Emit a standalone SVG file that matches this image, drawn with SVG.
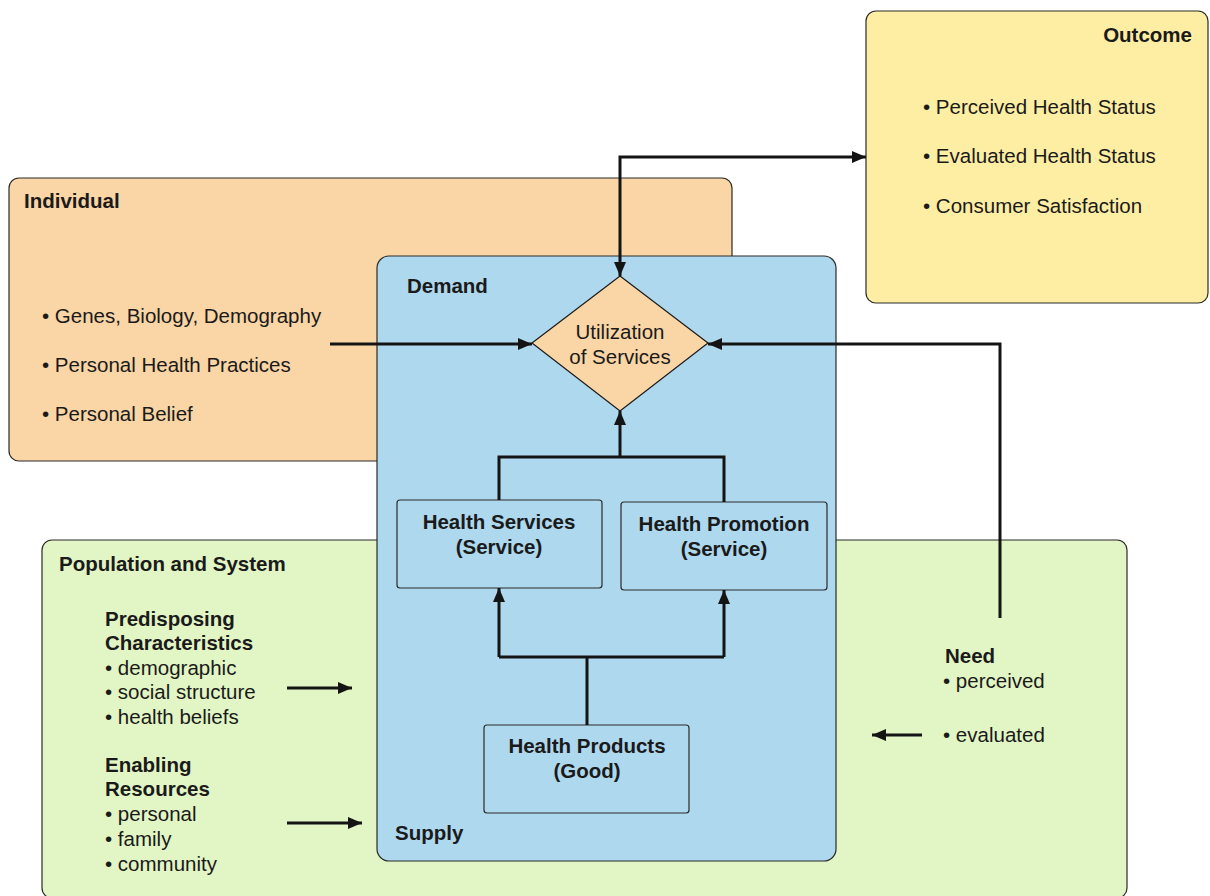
<svg xmlns="http://www.w3.org/2000/svg" width="1210" height="896" viewBox="0 0 1210 896">
<defs>
<style>
text{font-family:"Liberation Sans",Arial,sans-serif;fill:#1a1a1a;font-size:20.5px}
.b{font-weight:bold}
.m{text-anchor:middle}
.panel{stroke:#2a2a2a;stroke-width:1.2}
.box{fill:#aed8ee;stroke:#2a2a2a;stroke-width:1.2}
.c{fill:none;stroke:#141414;stroke-width:3}
</style>
<marker id="ah" viewBox="0 0 14 12" refX="14" refY="6" markerWidth="14" markerHeight="12" markerUnits="userSpaceOnUse" orient="auto-start-reverse">
<path d="M0,0 L14,6 L0,12 Z" fill="#141414"/>
</marker>
</defs>
<rect width="1210" height="896" fill="#ffffff"/>

<g id="population">
<rect class="panel" x="42" y="540" width="1085" height="358" rx="10" fill="#e2f5c4"/>
<text class="b" x="59" y="571">Population and System</text>
<text class="b" x="105" y="626">Predisposing</text>
<text class="b" x="105" y="650">Characteristics</text>
<text x="105" y="675">• demographic</text>
<text x="105" y="699">• social structure</text>
<text x="105" y="724">• health beliefs</text>
<text class="b" x="105" y="772">Enabling</text>
<text class="b" x="105" y="796">Resources</text>
<text x="105" y="821">• personal</text>
<text x="105" y="846">• family</text>
<text x="105" y="871">• community</text>
<text class="b" x="945" y="663">Need</text>
<text x="943" y="688">• perceived</text>
<text x="943" y="742">• evaluated</text>
</g>

<g id="individual">
<rect class="panel" x="9" y="178" width="723" height="283" rx="10" fill="#fad5a5"/>
<text class="b" x="24" y="208">Individual</text>
<text x="42" y="323">• Genes, Biology, Demography</text>
<text x="42" y="372">• Personal Health Practices</text>
<text x="42" y="421">• Personal Belief</text>
</g>

<g id="outcome">
<rect class="panel" x="866" y="11" width="342" height="292" rx="10" fill="#feeea3"/>
<text class="b" x="1192" y="42" text-anchor="end">Outcome</text>
<text x="923" y="114">• Perceived Health Status</text>
<text x="923" y="163">• Evaluated Health Status</text>
<text x="923" y="213">• Consumer Satisfaction</text>
</g>

<g id="demand-supply">
<rect class="panel" x="377" y="256" width="459" height="605" rx="12" fill="#aed8ee"/>
<text class="b" x="407" y="293">Demand</text>
<text class="b" x="395" y="840">Supply</text>
</g>

<g id="utilization">
<polygon points="620,276 708,343 620,411 532,343" fill="#fad5a5" stroke="#1a1a1a" stroke-width="1.2"/>
<text class="m" x="620" y="339">Utilization</text>
<text class="m" x="620" y="364">of Services</text>
</g>

<g id="health-services">
<rect class="box" x="397" y="500" width="205" height="88" rx="3"/>
<text class="b m" x="499" y="529">Health Services</text>
<text class="b m" x="499" y="554">(Service)</text>
</g>

<g id="health-promotion">
<rect class="box" x="621" y="502" width="206" height="88" rx="3"/>
<text class="b m" x="724" y="531">Health Promotion</text>
<text class="b m" x="724" y="556">(Service)</text>
</g>

<g id="health-products">
<rect class="box" x="484" y="725" width="205" height="88" rx="3"/>
<text class="b m" x="587" y="753">Health Products</text>
<text class="b m" x="587" y="778">(Good)</text>
</g>

<g id="connectors">
<path class="c" d="M620,276 L620,157 L866,157" marker-start="url(#ah)" marker-end="url(#ah)"/>
<path class="c" d="M330,344 L532,344" marker-end="url(#ah)"/>
<path class="c" d="M1000,618 L1000,344 L708,344" marker-end="url(#ah)"/>
<path class="c" d="M499,500 L499,457 L724,457 L724,502"/>
<path class="c" d="M620,457 L620,411" marker-end="url(#ah)"/>
<path class="c" d="M587,725 L587,657"/>
<path class="c" d="M499,657 L724,657"/>
<path class="c" d="M499,657 L499,588" marker-end="url(#ah)"/>
<path class="c" d="M724,657 L724,590" marker-end="url(#ah)"/>
<path class="c" d="M287,688 L352,688" marker-end="url(#ah)"/>
<path class="c" d="M287,823 L362,823" marker-end="url(#ah)"/>
<path class="c" d="M922,735 L872,735" marker-end="url(#ah)"/>
</g>
</svg>
